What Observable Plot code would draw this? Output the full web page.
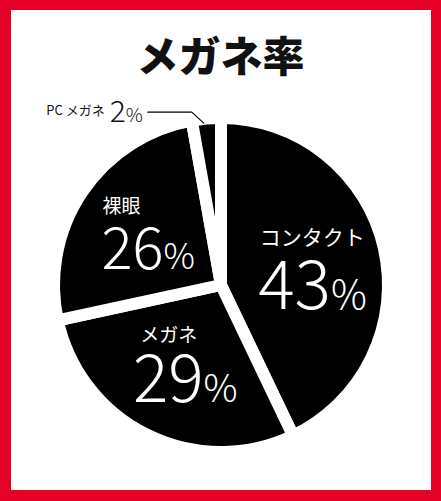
<!DOCTYPE html>
<html>
<head>
<meta charset="utf-8">
<script src="https://cdn.jsdelivr.net/npm/d3@7"></script>
<script src="https://cdn.jsdelivr.net/npm/@observablehq/plot@0.6"></script>
<style>
  body { margin: 0; background: #fff; }
  #wrap { position: relative; width: 441px; height: 501px; overflow: hidden; background: #fff; }
  #chart { position: absolute; left: 0; top: 0; }
  #frame { position: absolute; left: 0; top: 0; width: 441px; height: 501px; box-sizing: border-box;
           border-style: solid; border-color: #e50028; border-width: 10px 10px 11px 11px; pointer-events: none; }
  #title { position: absolute; left: 0; top: 30px; width: 441px; text-align: center;
           font-family: "Noto Sans CJK JP", sans-serif; font-weight: 900; font-size: 42px; line-height: 48px; color: #111; }
</style>
</head>
<body>
<div id="wrap">
  <div id="chart"></div>
  <div id="frame"></div>
  <div id="title">メガネ率</div>
</div>
<script>
// ---- data ----
const categories = ["コンタクト", "メガネ", "裸眼", "PC メガネ"];
const shares = [42.9, 28.7, 25.6, 2.8];          // slice sizes as drawn
const valueLabels = ["43", "29", "26", "2"];      // printed percentages

// ---- layout / style (not data) ----
const cx = 221, cy = 285;       // pie centre
const R = 167;                  // outer radius (incl. half of the white gap stroke)
const gapWidth = 12;
const labelRadius = 95;
const styles = [
  {nameSize: 21, numSize: 68, pctSize: 40, nameDx: -2,  nameDy: -26.5, valDx: 16.8, valDy: 45},
  {nameSize: 19, numSize: 66, pctSize: 38, nameDx: -11, nameDy: -34.8, valDx: 23.8, valDy: 31},
  {nameSize: 19, numSize: 58, pctSize: 35, nameDx: -21, nameDy: -25.6, valDx: 20.9, valDy: 36}
];
const numFont = "'Noto Sans CJK JP', sans-serif";

const rows = categories.map((name, i) => ({name, share: shares[i], label: valueLabels[i]}));
const arcs = d3.pie().sort(null).value(d => d.share)(rows);
const arcGen = d3.arc().innerRadius(0).outerRadius(R);
const labelArc = d3.arc().innerRadius(labelRadius).outerRadius(labelRadius);
const edgeArc = d3.arc().innerRadius(162).outerRadius(162);

// label anchor table for the three big slices
const big = arcs.slice(0, 3).map((a, i) => {
  const [lx, ly] = labelArc.centroid(a);
  const s = styles[i];
  return {
    name: a.data.name, label: a.data.label,
    nx: cx + lx + s.nameDx, ny: cy + ly + s.nameDy,
    vx: cx + lx + s.valDx, vy: cy + ly + s.valDy,
    nameSize: s.nameSize, numSize: s.numSize, pctSize: s.pctSize
  };
});

// small slice with leader
const pc = arcs[3];
const [ex0, ey0] = edgeArc.centroid(pc);
const ex = cx + ex0 - 3.5, ey = cy + ey0 - 1;
const leader = [
  {x: ex - 56, y: ey - 11},
  {x: ex - 12, y: ey - 11},
  {x: ex, y: ey}
];
const pcLab = {name: pc.data.name, label: pc.data.label, x: leader[0].x, y: leader[0].y};

function pieMark() {
  const g = d3.create("svg:g").attr("transform", `translate(${cx},${cy})`);
  g.selectAll("path").data(arcs).join("path")
    .attr("d", arcGen)
    .attr("fill", "#000")
    .attr("stroke", "#fff")
    .attr("stroke-width", gapWidth)
    .attr("stroke-linejoin", "round");
  return g.node();
}

const marks = [pieMark];
big.forEach(d => {
  marks.push(Plot.text([d], {x: "nx", y: "ny", text: "name", fill: "#fff", fontSize: d.nameSize,
    fontFamily: "'Noto Sans CJK JP', sans-serif", fontWeight: 400, textAnchor: "middle", lineAnchor: "middle"}));
  marks.push(Plot.text([d], {x: "vx", y: "vy", text: "label", fill: "#fff", fontSize: d.numSize,
    fontFamily: numFont, fontWeight: 300, textAnchor: "end", lineAnchor: "bottom"}));
  marks.push(Plot.text([d], {x: "vx", y: "vy", text: () => "%", fill: "#fff", fontSize: d.pctSize,
    fontFamily: numFont, fontWeight: 300, textAnchor: "start", lineAnchor: "bottom"}));
});
marks.push(Plot.line(leader, {x: "x", y: "y", stroke: "#000", strokeWidth: 1.2}));
marks.push(Plot.text([pcLab], {x: d => d.x - 43, y: d => d.y + 3, text: "name", fill: "#111", fontSize: 13,
  fontFamily: "'Noto Sans CJK JP', sans-serif", fontWeight: 400, textAnchor: "end", lineAnchor: "bottom"}));
marks.push(Plot.text([pcLab], {x: d => d.x - 22, y: d => d.y + 10, text: "label", fill: "#111", fontSize: 30,
  fontFamily: numFont, fontWeight: 300, textAnchor: "end", lineAnchor: "bottom"}));
marks.push(Plot.text([pcLab], {x: d => d.x - 22, y: d => d.y + 10, text: () => "%", fill: "#111", fontSize: 19,
  fontFamily: numFont, fontWeight: 300, textAnchor: "start", lineAnchor: "bottom"}));

const plot = Plot.plot({
  width: 441, height: 501, margin: 0,
  x: {type: "identity", axis: null},
  y: {type: "identity", axis: null},
  style: {background: "transparent", overflow: "visible"},
  marks
});
document.getElementById("chart").appendChild(plot);
</script>
</body>
</html>
